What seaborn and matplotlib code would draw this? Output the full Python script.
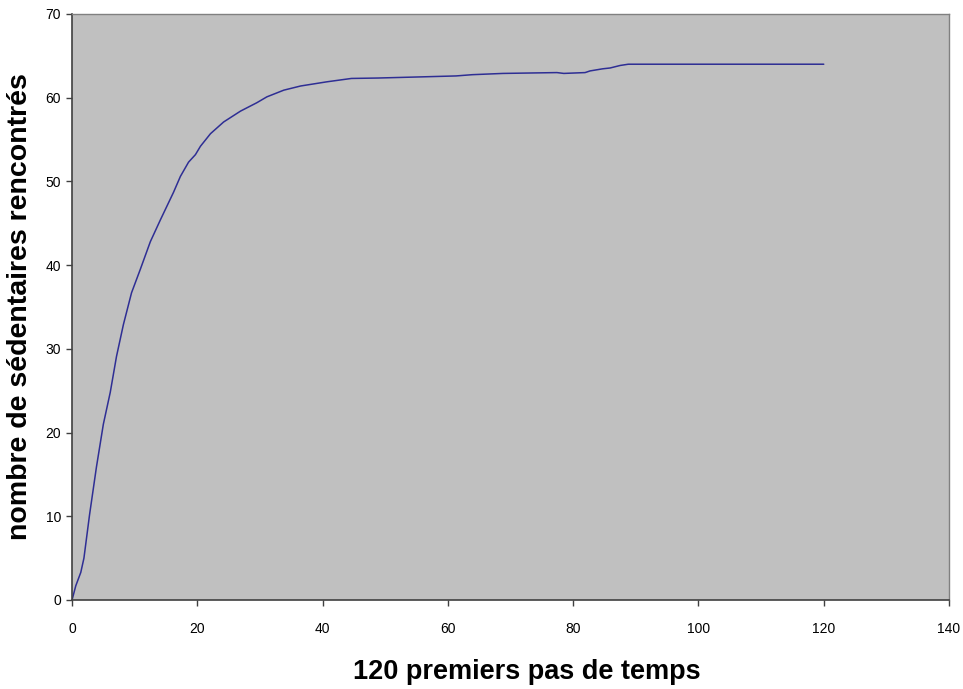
import pandas as pd
import numpy as np

import matplotlib.pyplot as plt
import seaborn as sns

sns.set_style("ticks")
plt.rcParams['font.family'] = ['Liberation Sans', 'DejaVu Sans']

# Values
pas = [0, 0.6, 1.4, 1.9, 2.8, 3.9, 5, 6.1, 7.1, 8.2, 9.5, 10.9, 12.5, 14.1,
       16.2, 17.3, 18.6, 19.7, 20.5, 22.1, 24.2, 26.9, 29.5, 31.1, 33.8,
       36.5, 40.7, 44.6, 48.8, 56.4, 61.3, 63.9, 68.8, 77.4, 78.5, 81.9,
       82.7, 83.5, 84.7, 85.9, 86.7, 87.5, 88.8, 120]
sedentaires = [0, 1.7, 3.3, 5.0, 10.2, 15.9, 21.0, 24.8, 29.1, 32.9, 36.7,
               39.5, 42.8, 45.4, 48.7, 50.6, 52.3, 53.2, 54.2, 55.7, 57.1,
               58.4, 59.4, 60.1, 60.9, 61.4, 61.9, 62.3, 62.35, 62.5, 62.6,
               62.75, 62.9, 63.0, 62.9, 63.0, 63.2, 63.3, 63.45, 63.55,
               63.7, 63.85, 64.0, 64.0]

df = pd.DataFrame({"pas": pas, "sed": sedentaires})

fig = plt.figure(figsize=(9.63, 6.89), dpi=100)
ax = fig.add_axes([0.0748, 0.1292, 0.9107, 0.8505])
ax.set_facecolor("#C0C0C0")

sns.lineplot(data=df, x="pas", y="sed", ax=ax, color="#2E2E94", linewidth=1.1)

ax.set_xlim(0, 140)
ax.set_ylim(0, 70)
ax.set_xticks(range(0, 141, 20))
ax.set_yticks(range(0, 71, 10))
ax.tick_params(axis="both", labelsize=10, length=4, width=1, color="#404040",
               labelcolor="black", pad=12)
ax.tick_params(axis="y", pad=4)

for side in ["top", "right"]:
    ax.spines[side].set_color("#808080")
    ax.spines[side].set_linewidth(1)
for side in ["left", "bottom"]:
    ax.spines[side].set_color("#404040")
    ax.spines[side].set_linewidth(1.2)

ax.set_xlabel("120 premiers pas de temps", fontsize=19.5, fontweight="bold",
              color="black")
ax.set_ylabel("nombre de sédentaires rencontrés", fontsize=20.5,
              fontweight="bold", color="black")
ax.xaxis.set_label_coords(0.519, -0.1)
ax.yaxis.set_label_coords(-0.045, 0.5)

fig.savefig("out.png", dpi=100)
